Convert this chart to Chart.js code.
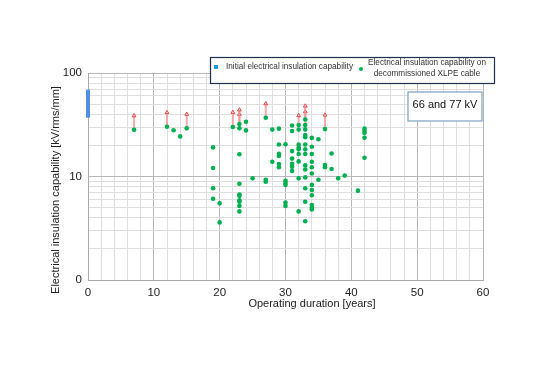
<!DOCTYPE html>
<html>
<head>
<meta charset="utf-8">
<script src="https://cdn.jsdelivr.net/npm/chart.js@4/dist/chart.umd.min.js"></script>
<style>
  html, body { margin: 0; padding: 0; background: #fff; }
</style>
</head>
<body>
<canvas id="chart" width="538" height="380"></canvas>
<script>
// Decommissioned XLPE cable: operating years and measured capability (kV/rms/mm)
const years = [
  7, 12, 13, 14, 15,
  19, 19, 19, 19, 20, 20, 22,
  23, 23, 23, 23, 23, 23, 23, 23, 23, 23,
  24, 24, 25, 27, 27, 27, 28, 28,
  29, 29, 29, 29, 29, 29,
  30, 30, 30, 30, 30, 30,
  31, 31, 31, 31, 31, 31, 31,
  32, 32, 32, 32, 32, 32, 32, 32, 32,
  33, 33, 33, 33, 33, 33, 33, 33, 33, 33, 33, 33, 33, 33,
  34, 34, 34, 34, 34, 34, 34, 34, 34, 34, 34, 34,
  35, 35, 36, 36, 36, 37, 37, 38, 39, 41,
  42, 42, 42, 42, 42
];
const capability = [
  28.3, 30.2, 28.0, 24.4, 29.2,
  19.1, 12.1, 7.7, 6.1, 5.5, 3.6, 30.1,
  32.1, 29.2, 16.4, 8.5, 6.7, 6.5, 5.9, 5.7, 5.2, 4.6,
  33.8, 27.9, 9.6, 37.0, 9.3, 8.9, 28.4, 13.9,
  29.0, 20.4, 16.6, 15.8, 13.2, 12.3,
  20.5, 9.1, 8.7, 8.3, 5.6, 5.2,
  31.1, 27.5, 17.6, 14.9, 13.3, 12.4, 11.3,
  31.4, 28.4, 20.3, 19.0, 18.3, 16.5, 14.0, 9.6, 4.6,
  35.5, 31.4, 28.5, 25.2, 24.0, 20.4, 18.3, 16.5, 12.8, 11.7, 9.8, 7.7, 5.7, 3.7,
  23.6, 19.4, 16.5, 13.9, 12.3, 10.7, 8.3, 7.4, 6.6, 5.3, 5.0, 4.8,
  22.9, 9.3, 28.7, 12.9, 12.3, 16.7, 11.8, 9.6, 10.2, 7.3,
  29.0, 27.7, 26.3, 23.7, 15.2
];

// samples that did not break down: arrow from measured value upward
const arrowYears = [7, 12, 15, 22, 23, 23, 27, 32, 33, 33, 36];
const arrowFrom = [28.3, 30.2, 29.2, 30.1, 32.1, 29.2, 37.0, 31.4, 35.5, 31.4, 28.7];
const arrowTo = [38.7, 41.5, 40.0, 41.7, 44.0, 39.9, 50.5, 38.8, 48.0, 42.3, 39.3];

// initial capability of new cable (range at 0 years)
const initialYears = [0, 0];
const initialRange = [37, 69];

// axes
const xTickValues = [0, 2, 4, 6, 8, 10, 12, 14, 16, 18, 20, 22, 24, 26, 28, 30,
  32, 34, 36, 38, 40, 42, 44, 46, 48, 50, 52, 54, 56, 58, 60];
const xTickLabels = { 0: '0', 10: '10', 20: '20', 30: '30', 40: '40', 50: '50', 60: '60' };
const yTickValues = [1, 2, 3, 4, 5, 6, 7, 8, 9, 10, 20, 30, 40, 50, 60, 70, 80, 90, 100];
const yTickLabels = { 1: '0', 10: '10', 100: '100' };

const legendLabels = [
  'Initial electrical insulation capability',
  ['Electrical insulation capability on', 'decommissioned XLPE cable']
];
const voltageNote = '66 and 77 kV';
const xTitle = 'Operating duration [years]';
const yTitle = 'Electrical insulation capability [kV/rms/mm]';

const FONT = "'Liberation Sans', Arial, sans-serif";
const green = '#00b050';

const datasets = [];
datasets.push({
  label: 'Decommissioned',
  data: years.map((x, i) => ({ x: x, y: capability[i] })),
  pointRadius: 2.3,
  pointBorderWidth: 0,
  pointBackgroundColor: green,
  pointBorderColor: green,
  order: 0
});
datasets.push({
  label: 'Initial',
  data: initialYears.map((x, i) => ({ x: x, y: initialRange[i] })),
  showLine: true,
  clip: false,
  borderColor: '#4f8fe6',
  borderWidth: 4,
  borderCapStyle: 'butt',
  pointRadius: 0,
  order: 1
});
arrowYears.forEach((x, i) => {
  datasets.push({
    label: 'arrow',
    data: [{ x: x, y: arrowFrom[i] }, { x: x, y: arrowTo[i] }],
    showLine: true,
    borderColor: 'rgba(240, 150, 150, 0.8)',
    borderWidth: 2,
    pointRadius: [0, 2.2],
    pointStyle: 'triangle',
    pointBackgroundColor: 'rgba(255, 225, 225, 1)',
    pointBorderColor: '#e04848',
    pointBorderWidth: 1,
    order: 2
  });
});

// legend box, note box and axis titles
const decorations = {
  id: 'decorations',
  afterDraw(chart) {
    const ctx = chart.ctx;
    ctx.save();

    // legend
    ctx.fillStyle = '#fff';
    ctx.fillRect(210, 57, 284, 26);
    ctx.strokeStyle = '#1f2f4f';
    ctx.lineWidth = 1.2;
    ctx.strokeRect(210.5, 57.5, 284, 26);

    ctx.fillStyle = '#1a9be6';
    ctx.fillRect(214, 65, 4, 4);
    ctx.fillStyle = '#333';
    ctx.font = '8.2px ' + FONT;
    ctx.textBaseline = 'middle';
    ctx.textAlign = 'left';
    ctx.fillText(legendLabels[0], 226, 67);

    ctx.fillStyle = green;
    ctx.beginPath();
    ctx.arc(361, 69, 2, 0, Math.PI * 2);
    ctx.fill();
    ctx.fillStyle = '#333';
    ctx.textAlign = 'center';
    ctx.fillText(legendLabels[1][0], 427, 62.5);
    ctx.fillText(legendLabels[1][1], 427, 73.5);

    // voltage note
    ctx.fillStyle = '#fff';
    ctx.fillRect(408, 92, 74, 29);
    ctx.strokeStyle = '#8aa6c4';
    ctx.lineWidth = 1.3;
    ctx.strokeRect(408, 92, 74, 29);
    ctx.fillStyle = '#111';
    ctx.font = '11px ' + FONT;
    ctx.fillText(voltageNote, 445, 105);

    // axis titles
    ctx.fillStyle = '#222';
    ctx.font = '11px ' + FONT;
    ctx.fillText(xTitle, 312, 304);
    ctx.translate(56, 190);
    ctx.rotate(-Math.PI / 2);
    ctx.fillText(yTitle, 0, 0);

    ctx.restore();
  }
};

const majorGrid = '#b8b8b8';
const minorGrid = '#dedede';

new Chart(document.getElementById('chart'), {
  type: 'scatter',
  data: { datasets: datasets },
  options: {
    responsive: false,
    animation: false,
    devicePixelRatio: 1,
    layout: { padding: { left: 0, top: 73, right: 55, bottom: 0 } },
    plugins: {
      legend: { display: false },
      tooltip: { enabled: false }
    },
    scales: {
      x: {
        type: 'linear',
        min: 0,
        max: 60,
        afterFit: s => { s.height = 100; },
        afterBuildTicks: s => { s.ticks = xTickValues.map(v => ({ value: v })); },
        grid: {
          drawTicks: false,
          color: c => (c.tick && xTickLabels[c.tick.value] !== undefined) ? majorGrid : minorGrid
        },
        border: { color: '#aaa' },
        ticks: {
          autoSkip: false,
          maxRotation: 0,
          padding: 6,
          color: '#222',
          font: { family: FONT, size: 11.5 },
          callback: v => xTickLabels[v] !== undefined ? xTickLabels[v] : ''
        }
      },
      y: {
        type: 'logarithmic',
        min: 1,
        max: 100,
        afterFit: s => { s.width = 88; },
        afterBuildTicks: s => { s.ticks = yTickValues.map(v => ({ value: v })); },
        grid: {
          drawTicks: false,
          color: c => (c.tick && yTickLabels[c.tick.value] !== undefined) ? majorGrid : minorGrid
        },
        border: { color: '#aaa' },
        ticks: {
          autoSkip: false,
          padding: 6,
          color: '#222',
          font: { family: FONT, size: 11.5 },
          callback: v => yTickLabels[v] !== undefined ? yTickLabels[v] : ''
        }
      }
    }
  },
  plugins: [decorations]
});
</script>
</body>
</html>
